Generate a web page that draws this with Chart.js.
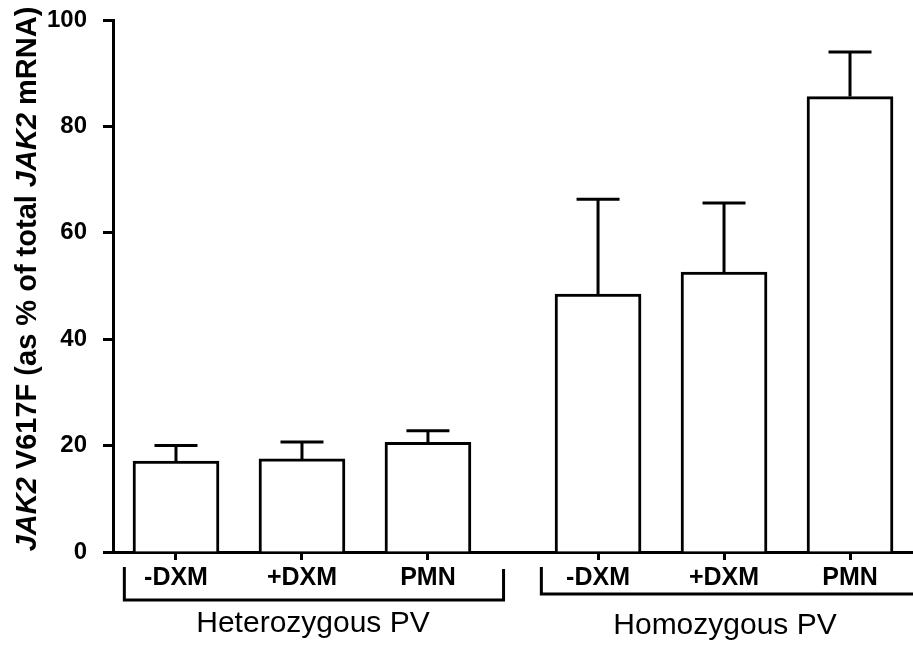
<!DOCTYPE html>
<html>
<head>
<meta charset="utf-8">
<script src="https://cdn.jsdelivr.net/npm/chart.js@4"></script>
<style>
  html, body { margin: 0; padding: 0; background: #fff; }
  #wrap { position: relative; width: 913px; height: 646px; }
</style>
</head>
<body>
<div id="wrap"><canvas id="chart"></canvas></div>
<script>
// bar positions on the x scale (one unit = one bar slot, gap between groups)
const barPositions = [1, 2, 3, 4.35, 5.35, 6.35];
const barLabels = ['-DXM', '+DXM', 'PMN', '-DXM', '+DXM', 'PMN'];
const meanValues = [17.1, 17.5, 20.6, 48.5, 52.6, 85.6];
const upperErrors = [20.0, 20.7, 22.8, 66.3, 65.6, 94.0];
const yTicks = [0, 20, 40, 60, 80, 100];

const groupNames = ['Heterozygous PV', 'Homozygous PV'];
const groupSpans = [[0.59, 3.6], [3.9, 6.85]];

const FONT = '"Liberation Sans", Arial, sans-serif';

// upper error bars
const errorBars = {
    id: 'errorBars',
    afterDatasetsDraw(chart) {
        const { ctx, scales: { x, y } } = chart;
        ctx.save();
        ctx.strokeStyle = '#000';
        ctx.lineWidth = 3;
        ctx.lineCap = 'butt';
        barPositions.forEach((pos, i) => {
            const px = x.getPixelForValue(pos);
            const top = y.getPixelForValue(meanValues[i]);
            const err = y.getPixelForValue(upperErrors[i]);
            ctx.beginPath();
            ctx.moveTo(px, top);
            ctx.lineTo(px, err);
            ctx.moveTo(px - 21.5, err);
            ctx.lineTo(px + 21.5, err);
            ctx.stroke();
        });
        ctx.restore();
    }
};

// group brackets + names, and the y axis title with italic gene names
const groupLabels = {
    id: 'groupLabels',
    afterDraw(chart) {
        const { ctx, scales: { x } } = chart;
        ctx.save();
        ctx.strokeStyle = '#000';
        ctx.fillStyle = '#000';
        ctx.lineWidth = 3;

        const het0 = x.getPixelForValue(groupSpans[0][0]);
        const het1 = x.getPixelForValue(groupSpans[0][1]);
        ctx.beginPath();
        ctx.moveTo(het0, 567);
        ctx.lineTo(het0, 600);
        ctx.lineTo(het1, 600);
        ctx.lineTo(het1, 569);
        ctx.stroke();

        const hom0 = x.getPixelForValue(groupSpans[1][0]);
        const hom1 = x.getPixelForValue(groupSpans[1][1]);
        ctx.beginPath();
        ctx.moveTo(hom0, 567);
        ctx.lineTo(hom0, 594);
        ctx.lineTo(hom1, 594);
        ctx.stroke();

        ctx.font = '30px ' + FONT;
        ctx.textAlign = 'center';
        ctx.textBaseline = 'alphabetic';
        ctx.fillText(groupNames[0], 313, 632);
        ctx.fillText(groupNames[1], 725, 634);

        // rotated axis title
        const parts = [
            ['JAK2', true], [' V617F (as % of total ', false],
            ['JAK2', true], [' mRNA)', false]
        ];
        const bold = 'bold 29px ' + FONT;
        const boldIt = 'italic bold 29px ' + FONT;
        let total = 0;
        parts.forEach(([t, it]) => { ctx.font = it ? boldIt : bold; total += ctx.measureText(t).width; });
        ctx.translate(28, 279);
        ctx.rotate(-Math.PI / 2);
        ctx.textAlign = 'left';
        ctx.textBaseline = 'middle';
        let cx = -total / 2;
        parts.forEach(([t, it]) => {
            ctx.font = it ? boldIt : bold;
            ctx.fillText(t, cx, 0);
            cx += ctx.measureText(t).width;
        });
        ctx.restore();
    }
};

new Chart(document.getElementById('chart').getContext('2d'), {
    type: 'bar',
    data: {
        datasets: [{
            data: barPositions.map((p, i) => ({ x: p, y: meanValues[i] })),
            backgroundColor: '#fff',
            borderColor: '#000',
            borderWidth: 3,
            barThickness: 86
        }]
    },
    options: {
        responsive: true,
        maintainAspectRatio: false,
        animation: false,
        layout: { padding: 0 },
        plugins: {
            legend: { display: false },
            tooltip: { enabled: false }
        },
        scales: {
            x: {
                type: 'linear',
                min: 0.5,
                max: 6.85,
                offset: false,
                afterBuildTicks(scale) {
                    scale.ticks = barPositions.map(v => ({ value: v }));
                },
                afterFit(scale) { scale.height = 94; },
                ticks: {
                    autoSkip: false,
                    maxRotation: 0,
                    color: '#000',
                    font: { family: FONT, size: 25, weight: 'bold' },
                    padding: 3,
                    callback: (v, i) => barLabels[i]
                },
                grid: {
                    offset: false,
                    drawOnChartArea: false,
                    tickLength: 8,
                    tickWidth: 3,
                    color: '#000'
                },
                border: { color: '#000', width: 3 }
            },
            y: {
                min: 0,
                max: 100,
                afterBuildTicks(scale) {
                    scale.ticks = yTicks.map(v => ({ value: v }));
                },
                afterFit(scale) {
                    scale.width = 113;
                    scale.paddingTop = 20;
                    scale.paddingBottom = 0;
                },
                ticks: {
                    color: '#000',
                    font: { family: FONT, size: 24, weight: 'bold' },
                    padding: 16
                },
                grid: {
                    drawOnChartArea: false,
                    tickLength: 10,
                    tickWidth: 3,
                    color: '#000'
                },
                border: { color: '#000', width: 3 }
            }
        }
    },
    plugins: [errorBars, groupLabels]
});
</script>
</body>
</html>
